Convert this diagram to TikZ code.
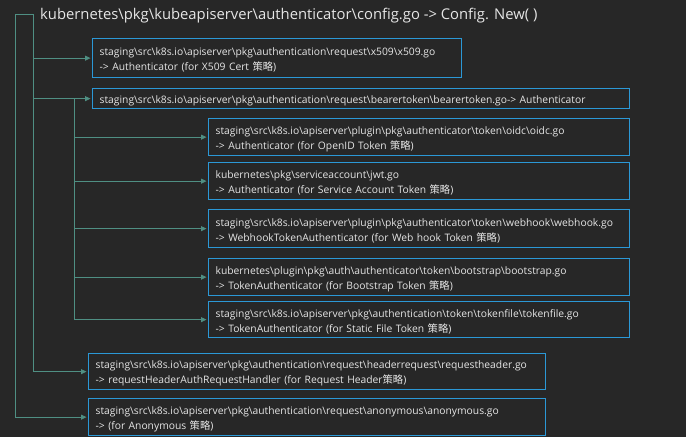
\documentclass[tikz,border=0pt]{standalone}
\usepackage{fontspec}
\setmainfont{Open Sans}
\newfontfamily\cjkfont{Noto Sans CJK SC}
\usetikzlibrary{arrows.meta}
\newcommand{\cl}{{\cjkfont 策略}}
\begin{document}
\begin{tikzpicture}[x=1pt,y=-1pt,
        filebox/.style={draw=boxblue,line width=1.3pt,anchor=north west,align=left,
            text=txt,font=\fontsize{10.3}{15}\selectfont,inner xsep=7pt,inner ysep=0pt,
            execute at begin node=\rule{0pt}{11.5pt}},
        link/.style={draw=linkteal,line width=0.8pt},
        arr/.style={link,-{Triangle[length=5.5pt,width=5pt]},shorten >=1.5pt}]
        \definecolor{bg}{HTML}{272727}
        \definecolor{boxblue}{HTML}{2B98D6}
        \definecolor{linkteal}{HTML}{4F8F83}
        \definecolor{txt}{HTML}{E6E6E6}
        \fill[bg] (0,0) rectangle (686,437);
        \useasboundingbox (0,0) rectangle (686,437);

        \node[anchor=west,text=txt,font=\fontsize{14.8}{18}\selectfont,inner sep=0pt] (title) at (40,16)
            {kubernetes\textbackslash pkg\textbackslash kubeapiserver\textbackslash authenticator\textbackslash config.go -> Config. New( )};
        \coordinate (root) at (33,14);
        \coordinate (outer) at (15,14);

        \node[filebox,minimum width=369pt,minimum height=39pt,text width=355pt] (x509) at (92,38)
            {staging\textbackslash src\textbackslash k8s.io\textbackslash apiserver\textbackslash pkg\textbackslash authentication\textbackslash request\textbackslash x509\textbackslash x509.go\\
             -> Authenticator (for X509 Cert \cl)};
        \node[filebox,minimum width=537pt,minimum height=20pt,text width=523pt] (bearer) at (92,88)
            {staging\textbackslash src\textbackslash k8s.io\textbackslash apiserver\textbackslash pkg\textbackslash authentication\textbackslash request\textbackslash bearertoken\textbackslash bearertoken.go-> Authenticator};

        \node[filebox,minimum width=421pt,minimum height=37pt,text width=407pt] (oidc) at (208,118)
            {staging\textbackslash src\textbackslash k8s.io\textbackslash apiserver\textbackslash plugin\textbackslash pkg\textbackslash authenticator\textbackslash token\textbackslash oidc\textbackslash oidc.go\\
             -> Authenticator (for OpenID Token \cl)};
        \node[filebox,minimum width=421pt,minimum height=37pt,text width=407pt] (jwt) at (208,162)
            {kubernetes\textbackslash pkg\textbackslash serviceaccount\textbackslash jwt.go\\
             -> Authenticator (for Service Account Token \cl)};
        \node[filebox,minimum width=421pt,minimum height=38pt,text width=407pt] (webhook) at (208,209)
            {staging\textbackslash src\textbackslash k8s.io\textbackslash apiserver\textbackslash plugin\textbackslash pkg\textbackslash authenticator\textbackslash token\textbackslash webhook\textbackslash webhook.go\\
             -> WebhookTokenAuthenticator (for Web hook Token \cl)};
        \node[filebox,minimum width=421pt,minimum height=37pt,text width=407pt] (bootstrap) at (208,258)
            {kubernetes\textbackslash plugin\textbackslash pkg\textbackslash auth\textbackslash authenticator\textbackslash token\textbackslash bootstrap\textbackslash bootstrap.go\\
             -> TokenAuthenticator (for Bootstrap Token \cl)};
        \node[filebox,minimum width=421pt,minimum height=36pt,text width=407pt] (tokenfile) at (208,301)
            {staging\textbackslash src\textbackslash k8s.io\textbackslash apiserver\textbackslash pkg\textbackslash authentication\textbackslash token\textbackslash tokenfile\textbackslash tokenfile.go\\
             -> TokenAuthenticator (for Static File Token \cl)};

        \node[filebox,minimum width=457pt,minimum height=36pt,text width=443pt] (reqheader) at (88,353)
            {staging\textbackslash src\textbackslash k8s.io\textbackslash apiserver\textbackslash pkg\textbackslash authentication\textbackslash request\textbackslash headerrequest\textbackslash requestheader.go\\
             -> requestHeaderAuthRequestHandler (for Request Header\cl)};
        \node[filebox,minimum width=457pt,minimum height=37pt,text width=443pt] (anon) at (88,398)
            {staging\textbackslash src\textbackslash k8s.io\textbackslash apiserver\textbackslash pkg\textbackslash authentication\textbackslash request\textbackslash anonymous\textbackslash anonymous.go\\
             -> (for Anonymous \cl)};

        % outer bracket
        \draw[link] (outer) -- (root);
        \draw[arr] (root) |- (reqheader.west);
        \draw[arr] (outer) |- (anon.west);
        \draw[arr] (root |- x509.west) -- (x509.west);
        \draw[arr] (root |- bearer.west) -- (bearer.west);

        % token authenticators
        \coordinate (tok) at ([xshift=-18pt]bearer.west);
        \foreach \n in {oidc,jwt,webhook,bootstrap}
            \draw[arr] (tok |- \n.west) -- (\n.west);
        \draw[arr] (tok) |- (tokenfile.west);
    \end{tikzpicture}
\end{document}
